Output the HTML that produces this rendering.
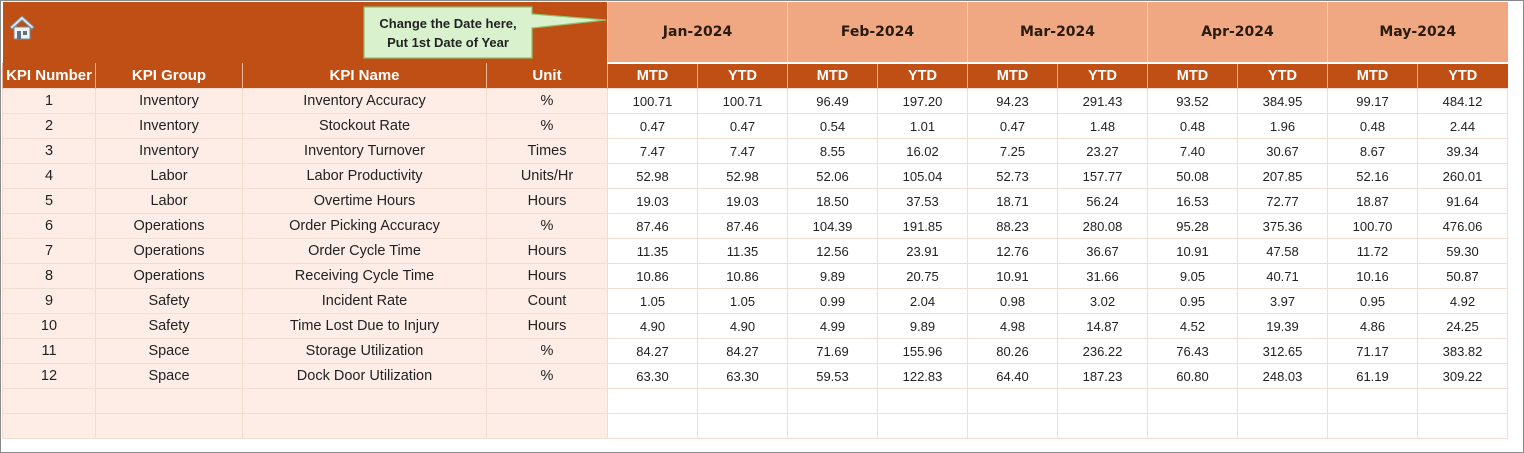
<!DOCTYPE html>
<html><head><meta charset="utf-8"><style>
body{margin:0;width:1524px;height:453px;background:#fff;position:relative;overflow:hidden;font-family:"Liberation Sans",sans-serif}
.frame{position:absolute;left:0;top:0;width:1522px;height:451px;border:1px solid #8a8a8a}
table{position:absolute;left:2px;top:2px;border-collapse:collapse;table-layout:fixed}
td{padding:0;text-align:center;white-space:nowrap;overflow:hidden}
.h1{height:61px;background:#C04F15}
.mon{background:#F0A882;color:#2a1a10;font-family:"DejaVu Sans",sans-serif;font-weight:bold;font-size:14px;border-left:1px solid #f6d2bd;border-bottom:2px solid #fff}
.h2 td{height:24px;background:#C04F15;color:#fff;font-weight:bold;font-size:14.5px;border-left:1px solid #e8b59a}
.h2 td.n{font-family:"Liberation Sans Narrow","Liberation Sans",sans-serif;font-size:15px}
.r td{height:24px;border:1px solid #f1ddd2;font-size:13px;color:#222}
.r td.l{background:#FDEDE6;font-family:"Liberation Sans Narrow","Liberation Sans",sans-serif;font-size:14.5px;color:#222}
.r td.v{background:#fff}
</style></head><body>
<div class="frame"></div>
<table>
<colgroup><col style="width:93px"><col style="width:147px"><col style="width:244px"><col style="width:121px">
<col style="width:90px"><col style="width:90px"><col style="width:90px"><col style="width:90px"><col style="width:90px"><col style="width:90px"><col style="width:90px"><col style="width:90px"><col style="width:90px"><col style="width:90px"></colgroup>
<tr><td class="h1" colspan="4"></td><td class="mon" colspan="2">Jan-2024</td><td class="mon" colspan="2">Feb-2024</td><td class="mon" colspan="2">Mar-2024</td><td class="mon" colspan="2">Apr-2024</td><td class="mon" colspan="2">May-2024</td></tr>
<tr class="h2"><td class="n">KPI Number</td><td class="n">KPI Group</td><td class="n">KPI Name</td><td class="n">Unit</td><td>MTD</td><td>YTD</td><td>MTD</td><td>YTD</td><td>MTD</td><td>YTD</td><td>MTD</td><td>YTD</td><td>MTD</td><td>YTD</td></tr>
<tr class="r"><td class="l">1</td><td class="l">Inventory</td><td class="l">Inventory Accuracy</td><td class="l">%</td><td class="v">100.71</td><td class="v">100.71</td><td class="v">96.49</td><td class="v">197.20</td><td class="v">94.23</td><td class="v">291.43</td><td class="v">93.52</td><td class="v">384.95</td><td class="v">99.17</td><td class="v">484.12</td></tr>
<tr class="r"><td class="l">2</td><td class="l">Inventory</td><td class="l">Stockout Rate</td><td class="l">%</td><td class="v">0.47</td><td class="v">0.47</td><td class="v">0.54</td><td class="v">1.01</td><td class="v">0.47</td><td class="v">1.48</td><td class="v">0.48</td><td class="v">1.96</td><td class="v">0.48</td><td class="v">2.44</td></tr>
<tr class="r"><td class="l">3</td><td class="l">Inventory</td><td class="l">Inventory Turnover</td><td class="l">Times</td><td class="v">7.47</td><td class="v">7.47</td><td class="v">8.55</td><td class="v">16.02</td><td class="v">7.25</td><td class="v">23.27</td><td class="v">7.40</td><td class="v">30.67</td><td class="v">8.67</td><td class="v">39.34</td></tr>
<tr class="r"><td class="l">4</td><td class="l">Labor</td><td class="l">Labor Productivity</td><td class="l">Units/Hr</td><td class="v">52.98</td><td class="v">52.98</td><td class="v">52.06</td><td class="v">105.04</td><td class="v">52.73</td><td class="v">157.77</td><td class="v">50.08</td><td class="v">207.85</td><td class="v">52.16</td><td class="v">260.01</td></tr>
<tr class="r"><td class="l">5</td><td class="l">Labor</td><td class="l">Overtime Hours</td><td class="l">Hours</td><td class="v">19.03</td><td class="v">19.03</td><td class="v">18.50</td><td class="v">37.53</td><td class="v">18.71</td><td class="v">56.24</td><td class="v">16.53</td><td class="v">72.77</td><td class="v">18.87</td><td class="v">91.64</td></tr>
<tr class="r"><td class="l">6</td><td class="l">Operations</td><td class="l">Order Picking Accuracy</td><td class="l">%</td><td class="v">87.46</td><td class="v">87.46</td><td class="v">104.39</td><td class="v">191.85</td><td class="v">88.23</td><td class="v">280.08</td><td class="v">95.28</td><td class="v">375.36</td><td class="v">100.70</td><td class="v">476.06</td></tr>
<tr class="r"><td class="l">7</td><td class="l">Operations</td><td class="l">Order Cycle Time</td><td class="l">Hours</td><td class="v">11.35</td><td class="v">11.35</td><td class="v">12.56</td><td class="v">23.91</td><td class="v">12.76</td><td class="v">36.67</td><td class="v">10.91</td><td class="v">47.58</td><td class="v">11.72</td><td class="v">59.30</td></tr>
<tr class="r"><td class="l">8</td><td class="l">Operations</td><td class="l">Receiving Cycle Time</td><td class="l">Hours</td><td class="v">10.86</td><td class="v">10.86</td><td class="v">9.89</td><td class="v">20.75</td><td class="v">10.91</td><td class="v">31.66</td><td class="v">9.05</td><td class="v">40.71</td><td class="v">10.16</td><td class="v">50.87</td></tr>
<tr class="r"><td class="l">9</td><td class="l">Safety</td><td class="l">Incident Rate</td><td class="l">Count</td><td class="v">1.05</td><td class="v">1.05</td><td class="v">0.99</td><td class="v">2.04</td><td class="v">0.98</td><td class="v">3.02</td><td class="v">0.95</td><td class="v">3.97</td><td class="v">0.95</td><td class="v">4.92</td></tr>
<tr class="r"><td class="l">10</td><td class="l">Safety</td><td class="l">Time Lost Due to Injury</td><td class="l">Hours</td><td class="v">4.90</td><td class="v">4.90</td><td class="v">4.99</td><td class="v">9.89</td><td class="v">4.98</td><td class="v">14.87</td><td class="v">4.52</td><td class="v">19.39</td><td class="v">4.86</td><td class="v">24.25</td></tr>
<tr class="r"><td class="l">11</td><td class="l">Space</td><td class="l">Storage Utilization</td><td class="l">%</td><td class="v">84.27</td><td class="v">84.27</td><td class="v">71.69</td><td class="v">155.96</td><td class="v">80.26</td><td class="v">236.22</td><td class="v">76.43</td><td class="v">312.65</td><td class="v">71.17</td><td class="v">383.82</td></tr>
<tr class="r"><td class="l">12</td><td class="l">Space</td><td class="l">Dock Door Utilization</td><td class="l">%</td><td class="v">63.30</td><td class="v">63.30</td><td class="v">59.53</td><td class="v">122.83</td><td class="v">64.40</td><td class="v">187.23</td><td class="v">60.80</td><td class="v">248.03</td><td class="v">61.19</td><td class="v">309.22</td></tr>
<tr class="r"><td class="l"></td><td class="l"></td><td class="l"></td><td class="l"></td><td class="v"></td><td class="v"></td><td class="v"></td><td class="v"></td><td class="v"></td><td class="v"></td><td class="v"></td><td class="v"></td><td class="v"></td><td class="v"></td></tr>
<tr class="r"><td class="l"></td><td class="l"></td><td class="l"></td><td class="l"></td><td class="v"></td><td class="v"></td><td class="v"></td><td class="v"></td><td class="v"></td><td class="v"></td><td class="v"></td><td class="v"></td><td class="v"></td><td class="v"></td></tr>
</table>
<svg style="position:absolute;left:0;top:0" width="620" height="64">
<g transform="translate(9,15)">
<polygon points="13,1 1,12 3,14 13,5 23,14 25,12" fill="#dfe9f0" stroke="#7a8c99" stroke-width="1"/>
<rect x="5" y="12" width="16" height="12" fill="#eef3f6" stroke="#7a8c99" stroke-width="1"/>
<rect x="8" y="16" width="4" height="8" fill="#5b7384"/>
<rect x="14" y="16" width="4" height="4" fill="#5b7384"/>
</g>
<path d="M364,7 H532 V14 L606,20 L532,28 V58 H364 Z" fill="#D9F2CD" stroke="#8FC16E" stroke-width="1.2"/>
<text x="448" y="28" text-anchor="middle" font-family="Liberation Sans Narrow, Liberation Sans, sans-serif" font-weight="bold" font-size="13" fill="#222">Change the Date here,</text>
<text x="448" y="47" text-anchor="middle" font-family="Liberation Sans Narrow, Liberation Sans, sans-serif" font-weight="bold" font-size="13" fill="#222">Put 1st Date of Year</text>
</svg>
</body></html>
